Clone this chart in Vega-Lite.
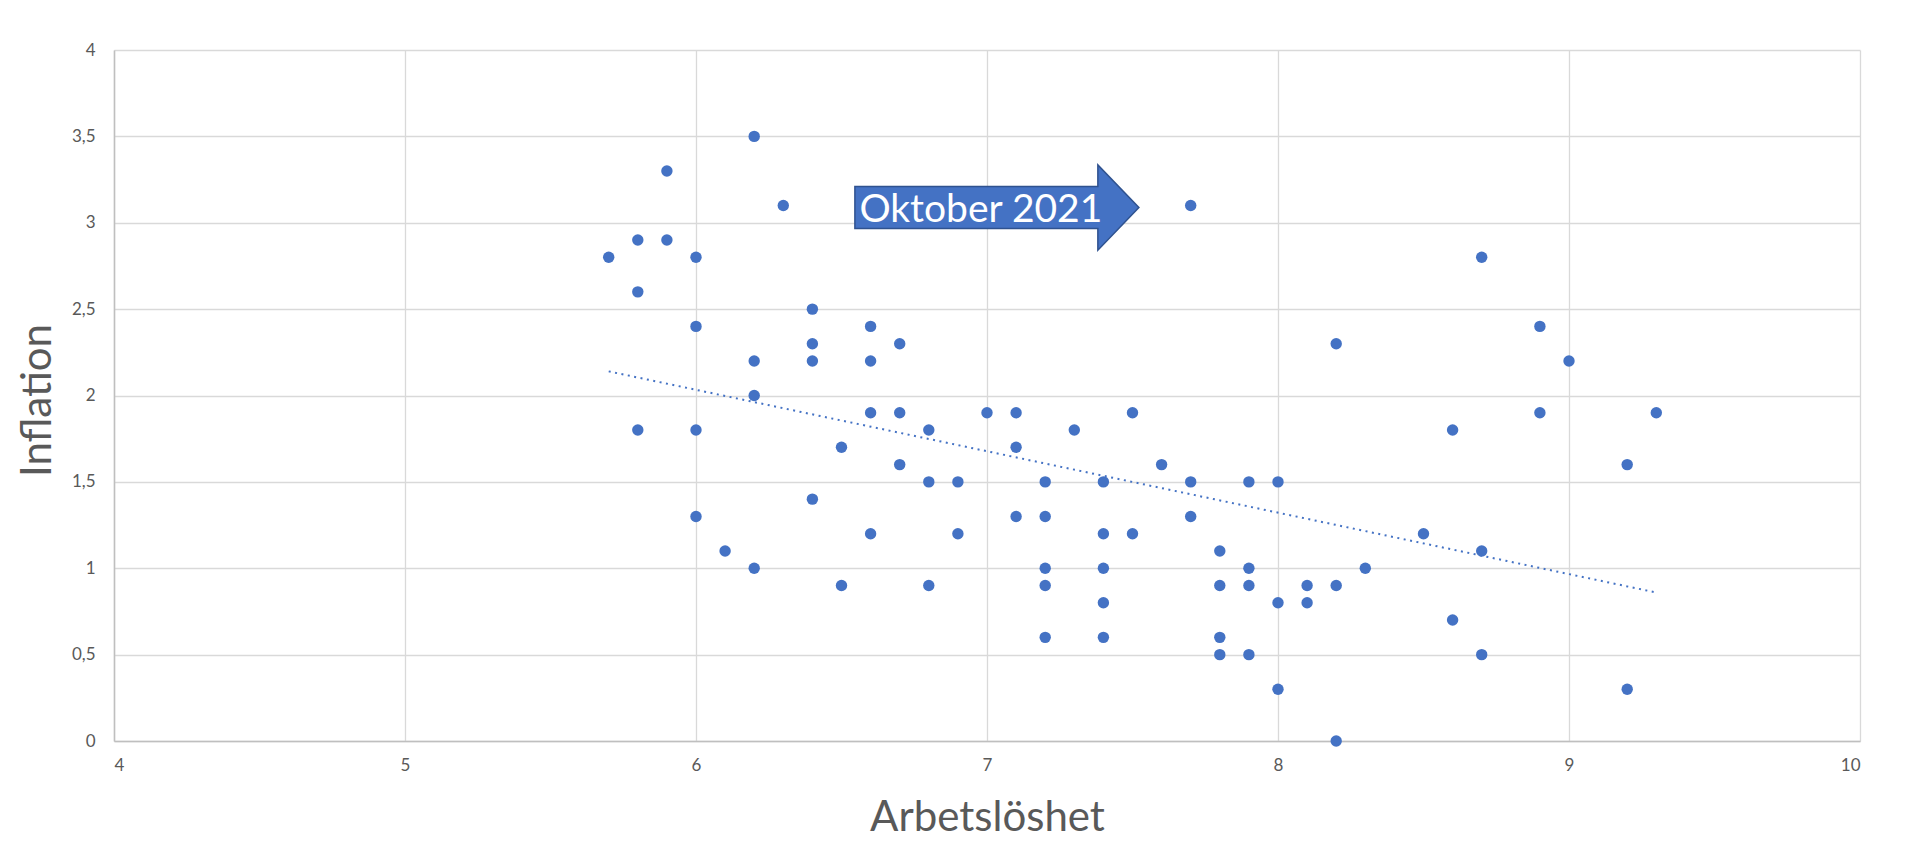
{
  "$schema": "https://vega.github.io/schema/vega-lite/v6.json",
  "width": 1746,
  "height": 691,
  "autosize": {"type": "none"},
  "padding": {"left": 114, "top": 50, "right": 60, "bottom": 125},
  "background": "white",
  "config": {
    "view": {"stroke": null},
    "font": "Lato",
    "axis": {
      "gridColor": "#D9D9D9",
      "gridWidth": 1.3,
      "domainColor": "#BFBFBF",
      "domainWidth": 1.5,
      "ticks": false,
      "labelColor": "#595959",
      "labelFont": "Lato",
      "labelFontSize": 17,
      "titleColor": "#595959",
      "titleFont": "Lato",
      "titleFontSize": 42,
      "titleFontWeight": "normal"
    }
  },
  "datasets": {
    "obs": [
      {"Arbetsloshet": 5.7, "Inflation": 2.8},
      {"Arbetsloshet": 5.8, "Inflation": 2.9},
      {"Arbetsloshet": 5.8, "Inflation": 2.6},
      {"Arbetsloshet": 5.8, "Inflation": 1.8},
      {"Arbetsloshet": 5.9, "Inflation": 3.3},
      {"Arbetsloshet": 5.9, "Inflation": 2.9},
      {"Arbetsloshet": 6.0, "Inflation": 2.8},
      {"Arbetsloshet": 6.0, "Inflation": 2.4},
      {"Arbetsloshet": 6.0, "Inflation": 1.8},
      {"Arbetsloshet": 6.0, "Inflation": 1.3},
      {"Arbetsloshet": 6.1, "Inflation": 1.1},
      {"Arbetsloshet": 6.2, "Inflation": 3.5},
      {"Arbetsloshet": 6.2, "Inflation": 2.2},
      {"Arbetsloshet": 6.2, "Inflation": 2.0},
      {"Arbetsloshet": 6.2, "Inflation": 1.0},
      {"Arbetsloshet": 6.3, "Inflation": 3.1},
      {"Arbetsloshet": 6.4, "Inflation": 2.5},
      {"Arbetsloshet": 6.4, "Inflation": 2.3},
      {"Arbetsloshet": 6.4, "Inflation": 2.2},
      {"Arbetsloshet": 6.4, "Inflation": 1.4},
      {"Arbetsloshet": 6.5, "Inflation": 1.7},
      {"Arbetsloshet": 6.5, "Inflation": 0.9},
      {"Arbetsloshet": 6.6, "Inflation": 2.4},
      {"Arbetsloshet": 6.6, "Inflation": 2.2},
      {"Arbetsloshet": 6.6, "Inflation": 1.9},
      {"Arbetsloshet": 6.6, "Inflation": 1.2},
      {"Arbetsloshet": 6.7, "Inflation": 2.3},
      {"Arbetsloshet": 6.7, "Inflation": 1.9},
      {"Arbetsloshet": 6.7, "Inflation": 1.6},
      {"Arbetsloshet": 6.8, "Inflation": 1.8},
      {"Arbetsloshet": 6.8, "Inflation": 1.5},
      {"Arbetsloshet": 6.8, "Inflation": 0.9},
      {"Arbetsloshet": 6.9, "Inflation": 1.5},
      {"Arbetsloshet": 6.9, "Inflation": 1.2},
      {"Arbetsloshet": 7.0, "Inflation": 1.9},
      {"Arbetsloshet": 7.1, "Inflation": 1.9},
      {"Arbetsloshet": 7.1, "Inflation": 1.7},
      {"Arbetsloshet": 7.1, "Inflation": 1.3},
      {"Arbetsloshet": 7.2, "Inflation": 1.5},
      {"Arbetsloshet": 7.2, "Inflation": 1.3},
      {"Arbetsloshet": 7.2, "Inflation": 1.0},
      {"Arbetsloshet": 7.2, "Inflation": 0.9},
      {"Arbetsloshet": 7.2, "Inflation": 0.6},
      {"Arbetsloshet": 7.3, "Inflation": 1.8},
      {"Arbetsloshet": 7.4, "Inflation": 1.5},
      {"Arbetsloshet": 7.4, "Inflation": 1.2},
      {"Arbetsloshet": 7.4, "Inflation": 1.0},
      {"Arbetsloshet": 7.4, "Inflation": 0.8},
      {"Arbetsloshet": 7.4, "Inflation": 0.6},
      {"Arbetsloshet": 7.5, "Inflation": 1.9},
      {"Arbetsloshet": 7.5, "Inflation": 1.2},
      {"Arbetsloshet": 7.6, "Inflation": 1.6},
      {"Arbetsloshet": 7.7, "Inflation": 3.1},
      {"Arbetsloshet": 7.7, "Inflation": 1.5},
      {"Arbetsloshet": 7.7, "Inflation": 1.3},
      {"Arbetsloshet": 7.8, "Inflation": 1.1},
      {"Arbetsloshet": 7.8, "Inflation": 0.9},
      {"Arbetsloshet": 7.8, "Inflation": 0.6},
      {"Arbetsloshet": 7.8, "Inflation": 0.5},
      {"Arbetsloshet": 7.9, "Inflation": 1.5},
      {"Arbetsloshet": 7.9, "Inflation": 1.0},
      {"Arbetsloshet": 7.9, "Inflation": 0.9},
      {"Arbetsloshet": 7.9, "Inflation": 0.5},
      {"Arbetsloshet": 8.0, "Inflation": 1.5},
      {"Arbetsloshet": 8.0, "Inflation": 0.8},
      {"Arbetsloshet": 8.0, "Inflation": 0.3},
      {"Arbetsloshet": 8.1, "Inflation": 0.9},
      {"Arbetsloshet": 8.1, "Inflation": 0.8},
      {"Arbetsloshet": 8.2, "Inflation": 2.3},
      {"Arbetsloshet": 8.2, "Inflation": 0.9},
      {"Arbetsloshet": 8.2, "Inflation": 0.0},
      {"Arbetsloshet": 8.3, "Inflation": 1.0},
      {"Arbetsloshet": 8.5, "Inflation": 1.2},
      {"Arbetsloshet": 8.6, "Inflation": 1.8},
      {"Arbetsloshet": 8.6, "Inflation": 0.7},
      {"Arbetsloshet": 8.7, "Inflation": 2.8},
      {"Arbetsloshet": 8.7, "Inflation": 1.1},
      {"Arbetsloshet": 8.7, "Inflation": 0.5},
      {"Arbetsloshet": 8.9, "Inflation": 2.4},
      {"Arbetsloshet": 8.9, "Inflation": 1.9},
      {"Arbetsloshet": 9.0, "Inflation": 2.2},
      {"Arbetsloshet": 9.2, "Inflation": 1.6},
      {"Arbetsloshet": 9.2, "Inflation": 0.3},
      {"Arbetsloshet": 9.3, "Inflation": 1.9}
    ],
    "note": [
      {"Arbetsloshet": 7.034, "Inflation": 3.088, "label": "Oktober 2021"}
    ]
  },
  "layer": [
    {
      "data": {"name": "obs"},
      "mark": {"type": "point", "filled": true, "opacity": 1, "color": "#4472C4", "size": 130, "shape": "circle"},
      "encoding": {
        "x": {
          "field": "Arbetsloshet", "type": "quantitative",
          "scale": {"domain": [4, 10], "nice": false, "zero": false},
          "axis": {
            "title": "Arbetslöshet",
            "values": [4, 5, 6, 7, 8, 9, 10],
            "format": "d",
            "labelPadding": 16,
            "titleX": 873,
            "titleY": 89,
            "titleBaseline": "alphabetic",
            "titleAnchor": "middle"
          }
        },
        "y": {
          "field": "Inflation", "type": "quantitative",
          "scale": {"domain": [0, 4], "nice": false, "zero": true},
          "axis": {
            "title": "Inflation",
            "values": [0, 0.5, 1, 1.5, 2, 2.5, 3, 3.5, 4],
            "format": ".1~f",
            "labelPadding": 19,
            "titleX": -64,
            "titleY": 350,
            "titleAngle": -90,
            "titleBaseline": "alphabetic",
            "titleAnchor": "middle",
            "labelExpr": "replace(datum.label, '.', ',')"
          }
        }
      }
    },
    {
      "data": {"name": "obs"},
      "transform": [{"regression": "Inflation", "on": "Arbetsloshet"}],
      "mark": {"type": "line", "color": "#4472C4", "strokeWidth": 2, "strokeDash": [2, 4.5], "strokeCap": "butt"},
      "encoding": {
        "x": {"field": "Arbetsloshet", "type": "quantitative"},
        "y": {"field": "Inflation", "type": "quantitative"}
      }
    },
    {
      "data": {"name": "note"},
      "mark": {
        "type": "point",
        "filled": true,
        "fill": "#4472C4",
        "fillOpacity": 1,
        "stroke": "#2F528F",
        "strokeWidth": 1.5,
        "strokeOpacity": 1,
        "opacity": 1,
        "size": 80656,
        "shape": "M-1,-0.148 L0.711,-0.148 L0.711,-0.3 L1,0 L0.711,0.3 L0.711,0.148 L-1,0.148 Z"
      },
      "encoding": {
        "x": {"field": "Arbetsloshet", "type": "quantitative"},
        "y": {"field": "Inflation", "type": "quantitative"}
      }
    },
    {
      "data": {"name": "note"},
      "mark": {"type": "text", "color": "white", "font": "Lato", "fontSize": 39, "align": "center", "baseline": "middle", "dx": -16, "dy": 2.5},
      "encoding": {
        "x": {"field": "Arbetsloshet", "type": "quantitative"},
        "y": {"field": "Inflation", "type": "quantitative"},
        "text": {"field": "label"}
      }
    }
  ]
}
